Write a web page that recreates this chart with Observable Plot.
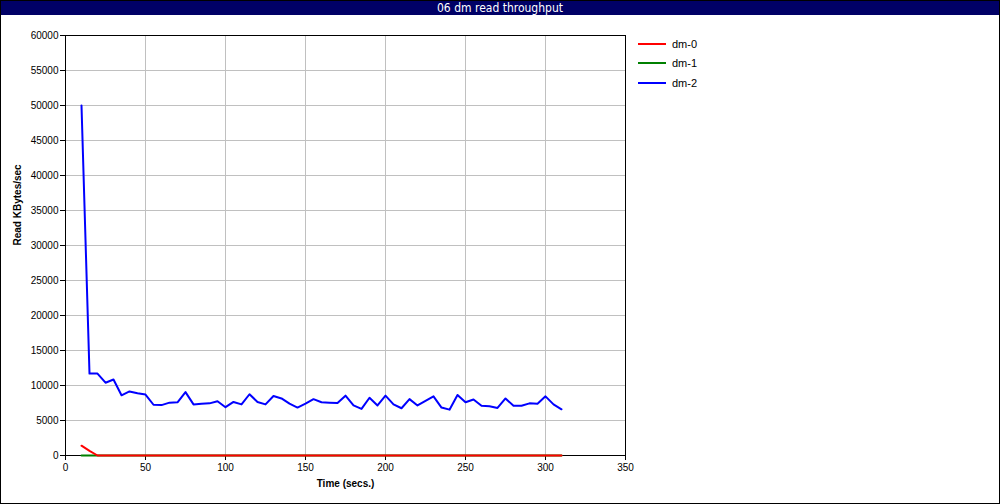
<!DOCTYPE html>
<html>
<head>
<meta charset="utf-8">
<script src="https://cdn.jsdelivr.net/npm/d3@7"></script>
<script src="https://cdn.jsdelivr.net/npm/@observablehq/plot@0.6"></script>
<style>
  html, body { margin: 0; padding: 0; background: #fff; }
  #wrap { position: relative; width: 1000px; height: 504px; box-sizing: border-box; border: 1px solid #000; overflow: hidden; font-family: "Liberation Sans", Arial, sans-serif; }
  #title { height: 14px; background: #000066; color: #fff; text-align: center; font-family: "Liberation Sans Narrow", "DejaVu Sans Condensed", "Liberation Sans", sans-serif; font-size: 12px; line-height: 14px; }
  #legend { position: absolute; left: 637px; top: 33px; font-size: 11px; }
  .item { display: flex; align-items: center; height: 19.5px; }
  .sw { width: 28px; height: 2px; margin-right: 6px; }
</style>
</head>
<body>
<div id="wrap">
  <div id="title">06 dm read throughput</div>
  <div id="chart"></div>
  <div id="legend"></div>
</div>
<script>
const seriesNames = ["dm-0", "dm-1", "dm-2"];
const seriesColors = ["#ff0000", "#008000", "#0000ff"];
const time = [10,15,20,25,30,35,40,45,50,55,60,65,70,75,80,85,90,95,100,105,110,115,120,125,130,135,140,145,150,155,160,165,170,175,180,185,190,195,200,205,210,215,220,225,230,235,240,245,250,255,260,265,270,275,280,285,290,295,300,305,310];
const dm0 = [1400,650,0,0,0,0,0,0,0,0,0,0,0,0,0,0,0,0,0,0,0,0,0,0,0,0,0,0,0,0,0,0,0,0,0,0,0,0,0,0,0,0,0,0,0,0,0,0,0,0,0,0,0,0,0,0,0,0,0,0,0];
const dm1 = [0,0,0,0,0,0,0,0,0,0,0,0,0,0,0,0,0,0,0,0,0,0,0,0,0,0,0,0,0,0,0,0,0,0,0,0,0,0,0,0,0,0,0,0,0,0,0,0,0,0,0,0,0,0,0,0,0,0,0,0,0];
const dm2 = [50000,11700,11700,10400,10850,8600,9150,8900,8700,7250,7200,7550,7600,9050,7300,7400,7450,7750,6900,7650,7300,8750,7650,7300,8500,8150,7400,6850,7400,8050,7600,7550,7500,8550,7150,6650,8250,7150,8550,7300,6750,8050,7150,7800,8450,6850,6550,8650,7600,8000,7100,7050,6800,8150,7100,7100,7450,7400,8450,7300,6600];
const xTicks = [0,50,100,150,200,250,300,350];
const yTicks = [0,5000,10000,15000,20000,25000,30000,35000,40000,45000,50000,55000,60000];

const seriesValues = [dm0, dm1, dm2];
const rows = [];
// draw order: blue, green, red (red on top of green)
[2, 1, 0].forEach(i => {
  time.forEach((t, j) => rows.push({series: seriesNames[i], t, v: seriesValues[i][j]}));
});

const chart = Plot.plot({
  width: 998,
  height: 488,
  marginLeft: 64,
  marginRight: 374,
  marginTop: 20,
  marginBottom: 48,
  style: {fontFamily: "Liberation Sans, Arial, sans-serif", fontSize: "10px", color: "#000", background: "#fff"},
  x: {domain: [0, 350], ticks: xTicks, label: null},
  y: {domain: [0, 60000], ticks: yTicks, label: null},
  color: {domain: seriesNames, range: seriesColors},
  marks: [
    Plot.gridX(xTicks, {stroke: "#c0c0c0", strokeOpacity: 1}),
    Plot.gridY(yTicks, {stroke: "#c0c0c0", strokeOpacity: 1}),
    Plot.frame({stroke: "#000"}),
    Plot.axisX(xTicks, {tickSize: 5, tickPadding: 3, tickFormat: d => String(d), label: null, fontSize: 10}),
    Plot.axisY(yTicks, {tickSize: 5, tickPadding: 2, tickFormat: d => String(d), label: null, fontSize: 10}),
    Plot.line(rows, {x: "t", y: "v", z: "series", stroke: "series", strokeWidth: 2}),
    Plot.text(["Time (secs.)"], {frameAnchor: "bottom", dy: 31, fontWeight: "bold", fontSize: 10}),
    Plot.text(["Read KBytes/sec"], {frameAnchor: "left", dx: -48, rotate: -90, fontWeight: "bold", fontSize: 10})
  ]
});
document.getElementById("chart").appendChild(chart);

const legend = document.getElementById("legend");
seriesNames.forEach((n, i) => {
  const it = document.createElement("div");
  it.className = "item";
  it.innerHTML = `<div class="sw" style="background:${seriesColors[i]}"></div><span>${n}</span>`;
  legend.appendChild(it);
});
</script>
</body>
</html>
